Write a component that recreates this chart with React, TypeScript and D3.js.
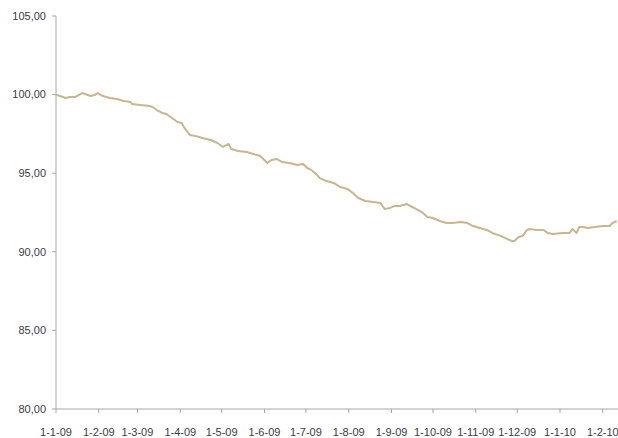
import React from "react";
import * as d3 from "d3";

// Index level, sampled by day offset from 1 Jan 2009
const dayOffsets = [
  0, 3, 7, 10, 14, 19, 21, 25, 28, 30, 34, 39, 44, 49, 54, 55, 61, 68, 70, 73,
  77, 80, 84, 88, 91, 93, 97, 101, 106, 112, 117, 121, 125, 127, 132, 138, 143,
  148, 153, 156, 160, 164, 169, 175, 179, 182, 185, 189, 191, 196, 201, 206, 211,
  215, 219, 224, 230, 235, 238, 242, 245, 249, 254, 258, 261, 265, 269, 273, 278,
  283, 287, 293, 298, 302, 307, 312, 316, 322, 327, 330, 332, 335, 338, 341, 343,
  348, 353, 356, 360, 367, 372, 374, 377, 379, 382, 385, 390, 396, 401, 403, 406,
];
const indexValues = [
  100.0, 99.91, 99.78, 99.85, 99.85, 100.1, 100.04, 99.91, 99.97, 100.1, 99.91,
  99.78, 99.72, 99.59, 99.53, 99.4, 99.34, 99.27, 99.21, 99.02, 98.83, 98.77,
  98.51, 98.26, 98.19, 97.88, 97.43, 97.37, 97.24, 97.11, 96.92, 96.67, 96.86,
  96.54, 96.41, 96.35, 96.22, 96.09, 95.65, 95.84, 95.9, 95.71, 95.65, 95.52,
  95.59, 95.33, 95.2, 94.89, 94.69, 94.5, 94.38, 94.12, 94.0, 93.74, 93.42,
  93.23, 93.17, 93.1, 92.72, 92.79, 92.91, 92.91, 93.04, 92.85, 92.72, 92.53,
  92.21, 92.15, 91.96, 91.83, 91.83, 91.9, 91.83, 91.64, 91.51, 91.39, 91.2,
  91.01, 90.81, 90.69, 90.69, 90.94, 91.01, 91.39, 91.45, 91.39, 91.39, 91.2,
  91.13, 91.2, 91.2, 91.45, 91.2, 91.58, 91.58, 91.51, 91.58, 91.64, 91.64,
  91.83, 91.96,
];
const yTicks = [80, 85, 90, 95, 100, 105];
const startDate = new Date(2009, 0, 1);
const monthTicks = d3.timeMonth.range(new Date(2009, 0, 1), new Date(2010, 1, 2));

const W = 618;
const H = 438;

const locale = d3.formatLocale({
  decimal: ",",
  thousands: ".",
  grouping: [3],
  currency: ["", " €"],
});
const fmtY = locale.format(".2f");
const fmtX = d3.timeFormat("%-d-%-m-%y");

export default function App() {
  const x = d3
    .scaleTime()
    .domain([startDate, new Date(2010, 0, 1)])
    .range([56, 560]);
  const y = d3.scaleLinear().domain([80, 105]).range([409, 16]);

  const points = dayOffsets.map((d, i) => ({
    date: d3.timeDay.offset(startDate, d),
    value: indexValues[i],
  }));

  const line = d3
    .line<{ date: Date; value: number }>()
    .x((p) => x(p.date))
    .y((p) => y(p.value))
    .curve(d3.curveLinear);

  const axisColor = "#a6a6a6";
  const textColor = "#3a3a48";
  const font = "'Liberation Sans', Arial, sans-serif";
  const x0 = x(startDate);
  const yBase = y(80);

  return (
    <svg
      width={W}
      height={H}
      style={{ position: "absolute", left: 0, top: 0, background: "#fff" }}
    >
      <defs>
        <clipPath id="plot">
          <rect x={0} y={0} width={W} height={H} />
        </clipPath>
      </defs>

      {/* value axis */}
      <line x1={x0} x2={x0} y1={y(105)} y2={yBase} stroke={axisColor} strokeWidth={1} />
      {yTicks.map((t) => (
        <g key={t}>
          <line x1={x0 - 4} x2={x0} y1={y(t)} y2={y(t)} stroke={axisColor} />
          <text
            x={46}
            y={y(t)}
            dy="0.35em"
            textAnchor="end"
            fontFamily={font}
            fontSize={11}
            fill={textColor}
          >
            {fmtY(t)}
          </text>
        </g>
      ))}

      {/* date axis */}
      <line x1={x0} x2={W} y1={yBase} y2={yBase} stroke={axisColor} strokeWidth={1} />
      {monthTicks.map((m) => (
        <g key={m.getTime()}>
          <line x1={x(m)} x2={x(m)} y1={yBase} y2={yBase + 4} stroke={axisColor} />
          <text
            x={x(m)}
            y={436}
            textAnchor="middle"
            fontFamily={font}
            fontSize={11}
            fill={textColor}
          >
            {fmtX(m)}
          </text>
        </g>
      ))}

      <path
        d={line(points) ?? ""}
        fill="none"
        stroke="#c9b58e"
        strokeWidth={2}
        strokeLinejoin="round"
        clipPath="url(#plot)"
      />
    </svg>
  );
}
